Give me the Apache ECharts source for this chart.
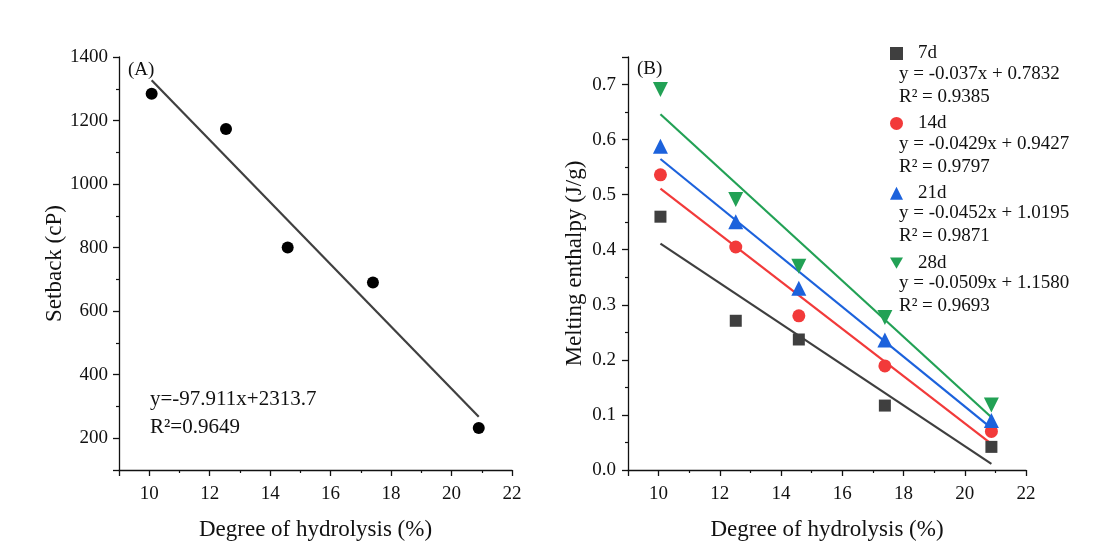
<!DOCTYPE html>
<html>
<head>
<meta charset="utf-8">
<script src="https://cdn.jsdelivr.net/npm/echarts@6/dist/echarts.min.js"></script>
<style>
html,body{margin:0;padding:0;background:#fff;}
#main{width:1103px;height:550px;}
</style>
</head>
<body>
<div id="main"></div>
<script>
// ---- Panel A data ----
const dhA = [10.08, 12.54, 14.58, 17.40, 20.90];
const setback = [1284, 1173, 800, 690, 232];
const fitA = { slope: -97.911, intercept: 2313.7 };
const eqA = ['y=-97.911x+2313.7', 'R²=0.9649'];

// ---- Panel B data ----
const dhB = [10.06, 12.52, 14.58, 17.39, 20.87];
const storageNames = ['7d', '14d', '21d', '28d'];
const enth7 = [0.460, 0.271, 0.237, 0.117, 0.042];
const enth14 = [0.536, 0.405, 0.280, 0.189, 0.070];
const enth21 = [0.588, 0.451, 0.330, 0.236, 0.090];
const enth28 = [0.691, 0.491, 0.370, 0.277, 0.118];
const slopesB = [-0.037, -0.0429, -0.0452, -0.0509];
const interceptsB = [0.7832, 0.9427, 1.0195, 1.1580];
const eqLinesB = ['y = -0.037x + 0.7832', 'y = -0.0429x + 0.9427', 'y = -0.0452x + 1.0195', 'y = -0.0509x + 1.1580'];
const r2LinesB = ['R² = 0.9385', 'R² = 0.9797', 'R² = 0.9871', 'R² = 0.9693'];

const colors = ['#3f3f3f', '#f23a3a', '#1c62dc', '#22a155'];
const symbols = ['rect', 'circle', 'triangle', 'path://M0,0 L10,0 L5,8.66 Z'];
const symSizes = [12, 13, 15, 15];
const FONT = '"Liberation Serif", "Times New Roman", serif';

function fitLine(xs, m, b) {
  const x0 = Math.min.apply(null, xs), x1 = Math.max.apply(null, xs);
  return [[x0, m * x0 + b], [x1, m * x1 + b]];
}

const chart = echarts.init(document.getElementById('main'), null, { renderer: 'canvas' });

function xAxisCfg(gridIndex) {
  return {
    type: 'value', gridIndex: gridIndex, min: 9, max: 22, splitNumber: 6,
    name: 'Degree of hydrolysis (%)', nameLocation: 'middle', nameGap: 48,
    nameTextStyle: { fontFamily: FONT, fontSize: 23, color: '#111' },
    axisLine: { show: true, onZero: false, lineStyle: { color: '#111', width: 1.3 } },
    axisTick: { show: true, inside: false, length: 6, lineStyle: { color: '#111', width: 1.3 } },
    minorTick: { show: true, splitNumber: 2, length: 3, lineStyle: { color: '#111', width: 1.2 } },
    axisLabel: { fontFamily: FONT, fontSize: 19, color: '#111', margin: 15, showMinLabel: false,
      formatter: v => String(v) },
    splitLine: { show: false }, minorSplitLine: { show: false }
  };
}

const series = [];
// Panel A
series.push({
  name: 'Setback', type: 'scatter', xAxisIndex: 0, yAxisIndex: 0,
  data: dhA.map((x, i) => [x, setback[i]]),
  symbol: 'circle', symbolSize: 12, itemStyle: { color: '#000', opacity: 1 }, z: 3
});
series.push({
  name: 'fitA', type: 'line', xAxisIndex: 0, yAxisIndex: 0,
  data: fitLine(dhA, fitA.slope, fitA.intercept),
  symbol: 'none', lineStyle: { color: '#404040', width: 2.2 }, z: 2, silent: true
});
// Panel B
const enthAll = [enth7, enth14, enth21, enth28];
storageNames.forEach((nm, k) => {
  series.push({
    name: nm + ' fit', type: 'line', xAxisIndex: 1, yAxisIndex: 1,
    data: fitLine(dhB, slopesB[k], interceptsB[k]),
    symbol: 'none', lineStyle: { color: colors[k], width: 2.2 }, z: 2, silent: true
  });
});
storageNames.forEach((nm, k) => {
  series.push({
    name: nm, type: 'scatter', xAxisIndex: 1, yAxisIndex: 1,
    data: dhB.map((x, i) => [x, enthAll[k][i]]),
    symbol: symbols[k], symbolSize: symSizes[k], itemStyle: { color: colors[k], opacity: 1 }, z: 3
  });
});

// Text graphics
const graphics = [
  { type: 'text', left: 128, top: 61, style: { text: '(A)', font: '19px ' + FONT, fill: '#111' } },
  { type: 'text', left: 637, top: 60, style: { text: '(B)', font: '19px ' + FONT, fill: '#111' } },
  { type: 'text', left: 150, top: 389, style: { text: eqA[0], font: '21px ' + FONT, fill: '#111' } },
  { type: 'text', left: 150, top: 417, style: { text: eqA[1], font: '21px ' + FONT, fill: '#111' } }
];
storageNames.forEach((nm, k) => {
  const yEq = 74.5 + k * 69.6;
  graphics.push({ type: 'text', left: 899, top: yEq - 10, style: { text: eqLinesB[k], font: '19px ' + FONT, fill: '#111' } });
  graphics.push({ type: 'text', left: 899, top: yEq + 23.2 - 10, style: { text: r2LinesB[k], font: '19px ' + FONT, fill: '#111' } });
});

const option = {
  backgroundColor: '#ffffff',
  animation: false,
  grid: [
    { left: 119, top: 57, width: 393, height: 413, containLabel: false },
    { left: 628, top: 57, width: 398, height: 413, containLabel: false }
  ],
  xAxis: [xAxisCfg(0), xAxisCfg(1)],
  yAxis: [
    {
      type: 'value', gridIndex: 0, min: 100, max: 1400, splitNumber: 7,
      name: 'Setback (cP)', nameLocation: 'middle', nameGap: 52,
      nameTextStyle: { fontFamily: FONT, fontSize: 23, color: '#111' },
      axisLine: { show: true, onZero: false, lineStyle: { color: '#111', width: 1.3 } },
      axisTick: { show: true, inside: false, length: 6, lineStyle: { color: '#111', width: 1.3 } },
      minorTick: { show: true, splitNumber: 2, length: 3, lineStyle: { color: '#111', width: 1.2 } },
      axisLabel: { fontFamily: FONT, fontSize: 19, color: '#111', margin: 11, showMinLabel: false,
        formatter: v => String(v) },
      splitLine: { show: false }, minorSplitLine: { show: false }
    },
    {
      type: 'value', gridIndex: 1, min: 0, max: 0.75, interval: 0.1,
      name: 'Melting enthalpy (J/g)', nameLocation: 'middle', nameGap: 42,
      nameTextStyle: { fontFamily: FONT, fontSize: 23, color: '#111' },
      axisLine: { show: true, onZero: false, lineStyle: { color: '#111', width: 1.3 } },
      axisTick: { show: true, inside: false, length: 6, lineStyle: { color: '#111', width: 1.3 } },
      minorTick: { show: true, splitNumber: 2, length: 3, lineStyle: { color: '#111', width: 1.2 } },
      axisLabel: { fontFamily: FONT, fontSize: 19, color: '#111', margin: 12, showMaxLabel: false,
        formatter: v => v.toFixed(1) },
      splitLine: { show: false }, minorSplitLine: { show: false }
    }
  ],
  legend: {
    data: storageNames.map((nm, k) => ({ name: nm, icon: symbols[k] })),
    orient: 'vertical', left: 885, top: 39,
    itemWidth: 13, itemHeight: 13, itemGap: 50.9,
    textStyle: { fontFamily: FONT, fontSize: 19, color: '#111', padding: [0, 0, 0, 10] },
    selectedMode: false
  },
  graphic: graphics,
  series: series
};
chart.setOption(option);
</script>
</body>
</html>
